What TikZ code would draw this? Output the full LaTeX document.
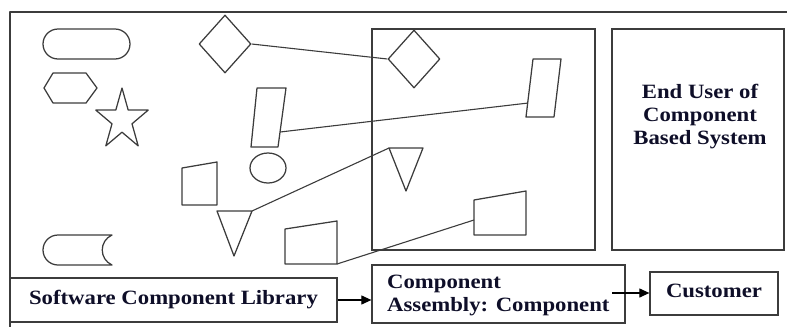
\documentclass[tikz,border=0pt]{standalone}
\usepackage{fontspec}
\newfontfamily\lblfont{Liberation Serif}[FakeStretch=1.12]
\usetikzlibrary{shapes.geometric,arrows.meta,calc}
\definecolor{linegray}{RGB}{60,60,60}
\definecolor{textnavy}{RGB}{14,14,40}
\tikzset{
  shp/.style={draw=linegray, line width=1.25pt, line join=round},
  conn/.style={draw=linegray, line width=1.1pt},
  arr/.style={draw=black, line width=1.1pt, -{Triangle[length=10pt,width=9pt]}},
  boxnode/.style={draw=linegray, line width=1.25pt, inner sep=0pt, font=\lblfont\bfseries\fontsize{20.3}{23}\selectfont, text=textnavy},
  dia/.style={shp, diamond, minimum width=52pt, minimum height=58pt, inner sep=0pt},
  txt/.style={font=\lblfont\bfseries\fontsize{20.3}{23}\selectfont, text=textnavy, inner sep=0pt}
}
\begin{document}
\begin{tikzpicture}[x=1pt,y=-1pt]
\useasboundingbox (0,0) rectangle (787,327);
% outer frame
\draw[shp] (787,12) -- (10,12) -- (10,327);
% boxes
\node[boxnode, minimum width=327pt, minimum height=44pt] (lib) at (173.5,300) {Software Component Library};
\node[boxnode, minimum width=253pt, minimum height=58pt] (comp) at (498.5,294) {};
\node[txt, align=left, anchor=west] (comptxt) at (387,295) {Component\\Assembly: Component};
\node[boxnode, minimum width=128pt, minimum height=43pt, text depth=5pt] (cust) at (714,293.5) {Customer};
\node[boxnode, minimum width=223pt, minimum height=221pt] (mid) at (483.5,139.5) {};
\node[boxnode, minimum width=172pt, minimum height=221pt] (endu) at (698,139.5) {};
\node[txt, align=center] (endtxt) at (700,117) {End User of\\Component\\Based System};
% arrows
\draw[arr] (lib.east) -- (lib.east -| comp.west);
\coordinate (cstart) at (612,293);
\draw[arr] (cstart) -- (cstart -| cust.west);
% left shapes
\draw[shp, rounded corners=15pt] (43,29) rectangle (130,59);
\draw[shp] (44,88) -- (53,73) -- (86,73) -- (97,88) -- (86,103) -- (53,103) -- cycle;
\draw[shp] (122,88) -- (128.2,110.1) -- (148.2,110.1) -- (132,123.8) -- (138.2,145.9) -- (122,132.2) -- (105.8,145.9) -- (112,123.8) -- (95.8,110.1) -- (115.8,110.1) -- cycle;
\draw[shp] (58,235) -- (112,235) .. controls (99,241) and (99,259) .. (112,265) -- (58,265)
  .. controls (49.7,265) and (43,258.3) .. (43,250) .. controls (43,241.7) and (49.7,235) .. (58,235) -- cycle;
% diamonds
\node[dia] (d1) at (225,44) {};
\node[dia] (d2) at (414,59) {};
\draw[conn] (d1.east) -- (d2.west);
% parallelograms
\coordinate (p1a) at (257,88); \coordinate (p1b) at (286,88);
\coordinate (p1c) at (278,147); \coordinate (p1d) at (251,147);
\draw[shp] (p1a) -- (p1b) -- (p1c) -- (p1d) -- cycle;
\coordinate (p2a) at (533,59); \coordinate (p2b) at (561,59);
\coordinate (p2c) at (554,117); \coordinate (p2d) at (526,117);
\draw[shp] (p2a) -- (p2b) -- (p2c) -- (p2d) -- cycle;
\coordinate (p1e) at ($(p1b)!0.746!(p1c)$);
\coordinate (p2e) at ($(p2a)!0.76!(p2d)$);
\draw[conn] (p1e) -- (p2e);
% circle
\node[shp, ellipse, minimum width=36pt, minimum height=30pt, inner sep=0pt] (circ) at (268,168) {};
% trapezoid 1
\draw[shp] (182,168) -- (217,162) -- (217,205) -- (182,205) -- cycle;
% triangles
\coordinate (t1a) at (217,211); \coordinate (t1b) at (252,211); \coordinate (t1c) at (234,256);
\draw[shp] (t1a) -- (t1b) -- (t1c) -- cycle;
\coordinate (t2a) at (389,148); \coordinate (t2b) at (423,148); \coordinate (t2c) at (406,191);
\draw[shp] (t2a) -- (t2b) -- (t2c) -- cycle;
\draw[conn] (t1b) -- (t2a);
% trapezoids 2 and 3
\coordinate (q2a) at (285,229); \coordinate (q2b) at (337,221);
\coordinate (q2c) at (337,264); \coordinate (q2d) at (285,264);
\draw[shp] (q2a) -- (q2b) -- (q2c) -- (q2d) -- cycle;
\coordinate (q3a) at (474,200); \coordinate (q3b) at (526,191);
\coordinate (q3c) at (526,235); \coordinate (q3d) at (474,235);
\draw[shp] (q3a) -- (q3b) -- (q3c) -- (q3d) -- cycle;
\coordinate (q3e) at (474,220);
\draw[conn] (q2c) -- (q3e);
\end{tikzpicture}
\end{document}
